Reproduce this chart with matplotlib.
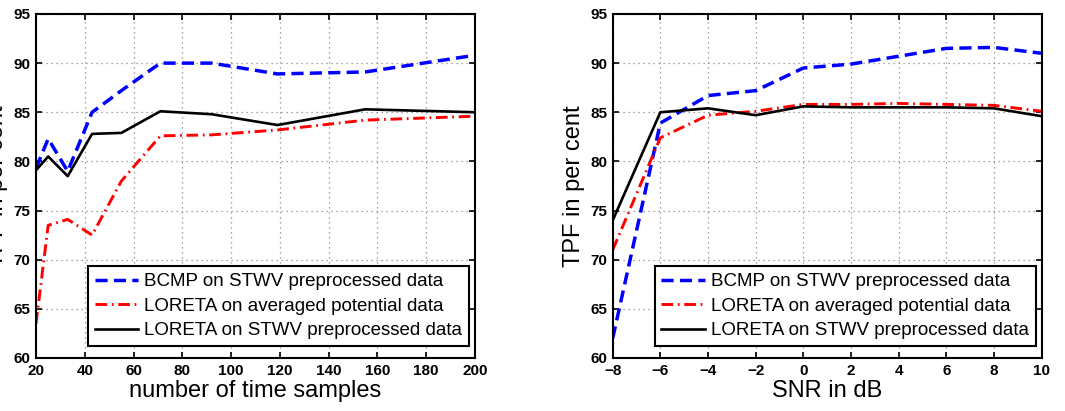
import matplotlib
matplotlib.use("Agg")
import matplotlib.pyplot as plt

# left panel: TPF vs number of time samples
samples = [20, 25, 33, 43, 55, 71, 92, 119, 155, 200]
bcmp_samples = [79.3, 82.3, 79.0, 85.0, 87.2, 90.0, 90.0, 88.9, 89.1, 90.8]
loreta_avg_samples = [63.5, 73.5, 74.1, 72.5, 78.0, 82.6, 82.7, 83.2, 84.2, 84.6]
loreta_stwv_samples = [79.1, 80.5, 78.5, 82.8, 82.9, 85.1, 84.8, 83.7, 85.3, 85.0]

# right panel: TPF vs SNR
snr = [-8, -6, -4, -2, 0, 2, 4, 6, 8, 10]
bcmp_snr = [62.0, 83.9, 86.7, 87.2, 89.5, 89.9, 90.7, 91.5, 91.6, 91.0]
loreta_avg_snr = [71.0, 82.4, 84.7, 85.1, 85.8, 85.8, 85.9, 85.8, 85.7, 85.1]
loreta_stwv_snr = [74.0, 85.0, 85.4, 84.7, 85.6, 85.5, 85.5, 85.5, 85.4, 84.6]

labels = ['BCMP on STWV preprocessed data',
          'LORETA on averaged potential data',
          'LORETA on STWV preprocessed data']

plt.rcParams['font.family'] = ['Liberation Sans', 'DejaVu Sans']

fig = plt.figure(figsize=(10.65, 4.11), dpi=100)
ax1 = fig.add_axes([0.0338, 0.129, 0.4122, 0.837])
ax2 = fig.add_axes([0.5753, 0.129, 0.4028, 0.837])


def draw(ax, x, b, r, k, xticks, xlabel):
    ax.plot(x, b, color='blue', lw=2.5, dashes=(3.5, 1.8), label=labels[0])
    ax.plot(x, r, color='red', lw=2.1, dashes=(4, 1.6, 0.6, 1.6), label=labels[1])
    ax.plot(x, k, color='black', lw=1.9, label=labels[2])
    ax.set_xlim(xticks[0], xticks[-1])
    ax.set_ylim(60, 95)
    ax.set_xticks(xticks)
    ax.set_yticks(range(60, 96, 5))
    ax.grid(True, color='#888888', linestyle=(0, (1, 3)), lw=0.9)
    ax.tick_params(direction='in', top=True, right=True, length=4, width=1.2,
                   labelsize=11, pad=4)
    for t in ax.get_xticklabels() + ax.get_yticklabels():
        t.set_fontweight('bold')
    for s in ax.spines.values():
        s.set_linewidth(1.5)
    ax.set_xlabel(xlabel, fontsize=17, labelpad=2)
    ax.set_ylabel('TPF in per cent', fontsize=17, labelpad=4)
    leg = ax.legend(loc='lower right', bbox_to_anchor=(0.986, 0.035),
                    borderaxespad=0, fontsize=13.5, handlelength=2.3,
                    handletextpad=0.35, borderpad=0.35, labelspacing=0.4,
                    fancybox=False, framealpha=1, edgecolor='black')
    leg.get_frame().set_linewidth(1.5)


draw(ax1, samples, bcmp_samples, loreta_avg_samples, loreta_stwv_samples,
     list(range(20, 201, 20)), 'number of time samples')
draw(ax2, snr, bcmp_snr, loreta_avg_snr, loreta_stwv_snr,
     list(range(-8, 11, 2)), 'SNR in dB')

fig.savefig('out.png', dpi=100)
